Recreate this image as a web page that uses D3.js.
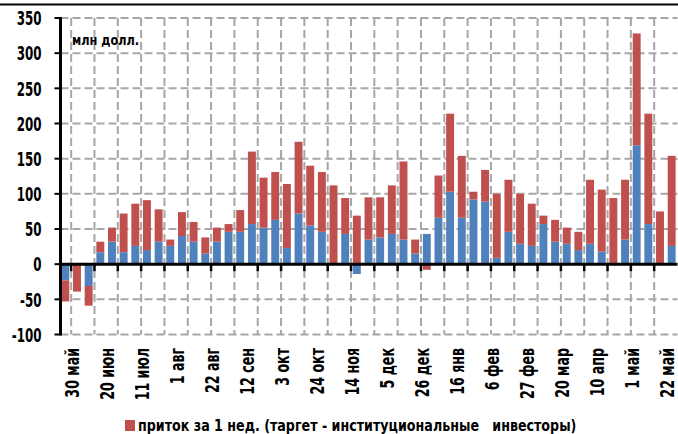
<!DOCTYPE html>
<html>
<head>
<meta charset="utf-8">
<script src="https://cdn.jsdelivr.net/npm/d3@7"></script>
<style>
  html, body { margin: 0; padding: 0; background: #fff; }
  svg { display: block; }
  text { font-family: "Liberation Sans Narrow", "DejaVu Sans Condensed", "DejaVu Sans", sans-serif; font-weight: bold; }
</style>
</head>
<body>
<svg id="chart" width="678" height="434"></svg>
<script>
// недели (с 30 мая)
const weeks = [
  "30 май", "6 июн", "13 июн", "20 июн", "27 июн", "4 июл", "11 июл", "18 июл", "25 июл",
  "1 авг", "8 авг", "15 авг", "22 авг", "29 авг", "5 сен", "12 сен", "19 сен", "26 сен",
  "3 окт", "10 окт", "17 окт", "24 окт", "31 окт", "7 ноя", "14 ноя", "21 ноя", "28 ноя",
  "5 дек", "12 дек", "19 дек", "26 дек", "2 янв", "9 янв", "16 янв", "23 янв", "30 янв",
  "6 фев", "13 фев", "20 фев", "27 фев", "6 мар", "13 мар", "20 мар", "27 мар", "3 апр",
  "10 апр", "17 апр", "24 апр", "1 май", "8 май", "15 май", "22 май", "29 май"
];
// подписи оси X (каждая 3-я неделя)
const tickLabels = [
  "30 май", "20 июн", "11 июл", "1 авг", "22 авг", "12 сен", "3 окт", "24 окт", "14 ноя",
  "5 дек", "26 дек", "16 янв", "6 фев", "27 фев", "20 мар", "10 апр", "1 май", "22 май"
];
const yTicks = [-100, -50, 0, 50, 100, 150, 200, 250, 300, 350];

// синяя серия (нижняя часть столбца)
const blueValues = [
  -23, 0, -31, 17, 32, 17, 26, 20, 32, 26, 40, 32, 15, 32, 46, 46, 57, 52, 63, 23,
  72, 55, 46, 0, 43, -14, 35, 38, 43, 35, 15, 43, 66, 103, 66, 92, 89, 9, 46, 29,
  26, 57, 32, 29, 20, 29, 18, 0, 35, 169, 57, 0, 26
];
// красная серия: приток за 1 нед. (таргет - институциональные инвесторы)
const redValues = [
  -30, -39, -28, 15, 20, 55, 60, 71, 46, 9, 34, 28, 23, 20, 11, 31, 103, 71, 68, 91,
  102, 85, 85, 112, 51, 69, 60, 57, 69, 111, 20, -8, 60, 111, 88, 11, 45, 91, 74, 71,
  60, 12, 31, 23, 26, 91, 88, 94, 85, 159, 157, 75, 128
];

const seriesKeys = ["blue", "red"];
const colors = { blue: "#4f81bd", red: "#c0504d" };
const unitLabel = "млн долл.";
const legendLabel = "приток за 1 нед. (таргет - институциональные   инвесторы)";

const width = 678, height = 434;
const plotLeft = 59.5, plotRight = 677.5, plotTop = 18, plotBottom = 334.5;

const svg = d3.select("#chart");

const rows = weeks.map((w, i) => ({ week: w, blue: blueValues[i], red: redValues[i] }));
const stacked = d3.stack().keys(seriesKeys).offset(d3.stackOffsetDiverging)(rows);

const x = d3.scaleBand().domain(weeks).range([plotLeft, plotRight]).paddingInner(0.32).paddingOuter(0.16);
const y = d3.scaleLinear().domain([-100, 350]).range([plotBottom, plotTop]);
const step = x.step();
const gridX = i => x(weeks[i]) + x.bandwidth() / 2 + step / 2;

// верхняя линия
svg.append("line")
  .attr("x1", 0).attr("x2", width)
  .attr("y1", 4.5).attr("y2", 4.5)
  .attr("stroke", "#000").attr("stroke-width", 2);

// сетка
const grid = svg.append("g")
  .attr("stroke", "#a6a6a6")
  .attr("stroke-width", 2)
  .attr("stroke-dasharray", "8,4");

grid.selectAll("line.h")
  .data(yTicks.filter(t => t !== 0))
  .join("line")
  .attr("class", "h")
  .attr("x1", plotLeft + 1).attr("x2", plotRight)
  .attr("y1", d => y(d)).attr("y2", d => y(d));

const vIdx = weeks.map((w, i) => i).filter(i => i % 2 === 0 && i < weeks.length - 1);
grid.selectAll("line.v")
  .data(vIdx)
  .join("line")
  .attr("class", "v")
  .attr("x1", gridX).attr("x2", gridX)
  .attr("y1", y(350)).attr("y2", y(-100));

// столбцы
svg.append("g")
  .selectAll("g")
  .data(stacked)
  .join("g")
  .attr("fill", d => colors[d.key])
  .selectAll("rect")
  .data(d => d)
  .join("rect")
  .attr("x", d => x(d.data.week))
  .attr("width", x.bandwidth())
  .attr("y", d => y(Math.max(d[0], d[1])))
  .attr("height", d => Math.abs(y(d[0]) - y(d[1])));

// ось Y
const yAxis = svg.append("g").attr("transform", `translate(${plotLeft + 1},0)`);
yAxis.append("line")
  .attr("x1", 0).attr("x2", 0)
  .attr("y1", y(350) - 1).attr("y2", y(-100) + 1)
  .attr("stroke", "#000").attr("stroke-width", 3);
yAxis.selectAll("line.tick")
  .data(yTicks)
  .join("line")
  .attr("class", "tick")
  .attr("x1", -6).attr("x2", 0)
  .attr("y1", d => y(d)).attr("y2", d => y(d))
  .attr("stroke", "#000").attr("stroke-width", 2);
// шрифт в оригинале узкий - сжимаем по горизонтали
yAxis.selectAll("text")
  .data(yTicks)
  .join("text")
  .attr("transform", d => `translate(-19,${y(d)}) scale(0.66,1)`)
  .attr("dy", "0.36em")
  .attr("text-anchor", "end")
  .attr("font-size", 20)
  .text(d => d);

// ось X (нулевая линия)
const xAxis = svg.append("g");
xAxis.append("line")
  .attr("x1", plotLeft).attr("x2", plotRight)
  .attr("y1", y(0)).attr("y2", y(0))
  .attr("stroke", "#000").attr("stroke-width", 3);
xAxis.selectAll("line.tick")
  .data(vIdx)
  .join("line")
  .attr("class", "tick")
  .attr("x1", gridX).attr("x2", gridX)
  .attr("y1", y(0)).attr("y2", y(0) + 7)
  .attr("stroke", "#000").attr("stroke-width", 2.5);

// подписи дат
svg.append("g")
  .selectAll("text")
  .data(tickLabels)
  .join("text")
  .attr("transform", d => `translate(${x(d) + x.bandwidth() / 2 + 7.5},348) rotate(-90) scale(0.72,1)`)
  .attr("dy", "0.33em")
  .attr("text-anchor", "end")
  .attr("font-size", 19.5)
  .text(d => d);

// единицы
svg.append("text")
  .attr("transform", "translate(72,45) scale(0.9,1)")
  .attr("font-size", 14)
  .text(unitLabel);

// легенда
const legend = svg.append("g").attr("transform", "translate(125,420)");
legend.append("rect")
  .attr("width", 10).attr("height", 11)
  .attr("fill", colors.red);
legend.append("text")
  .attr("transform", "translate(13,11) scale(0.94,1)")
  .attr("font-size", 15)
  .style("white-space", "pre")
  .text(legendLabel);
</script>
</body>
</html>
